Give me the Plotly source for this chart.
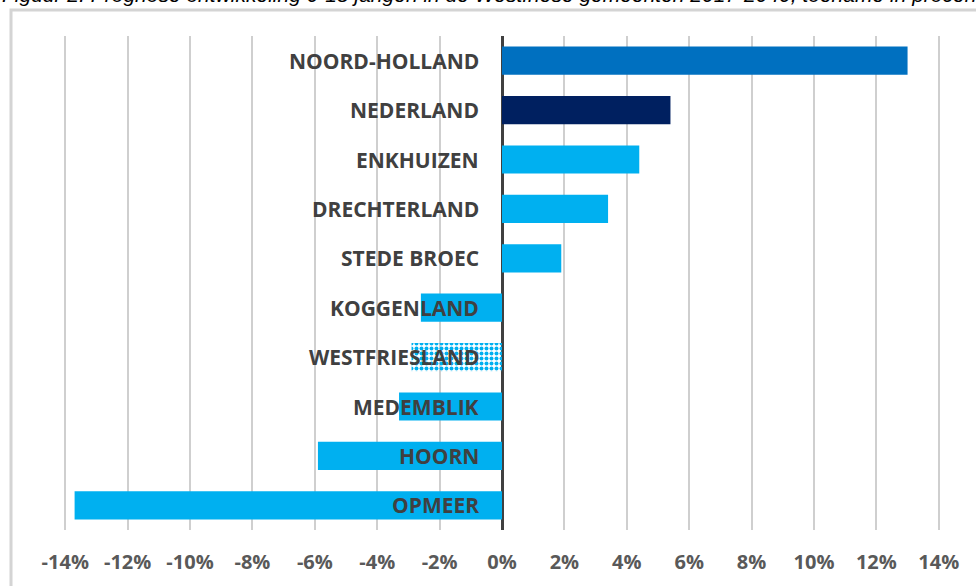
import plotly.graph_objects as go

categories = ["NOORD-HOLLAND", "NEDERLAND", "ENKHUIZEN", "DRECHTERLAND", "STEDE BROEC",
              "KOGGENLAND", "WESTFRIESLAND", "MEDEMBLIK", "HOORN", "OPMEER"]
values = [13.0, 5.4, 4.4, 3.4, 1.9, -2.6, -2.9, -3.3, -5.9, -13.7]
tick_vals = [-14, -12, -10, -8, -6, -4, -2, 0, 2, 4, 6, 8, 10, 12, 14]
tick_text = ["-14%", "-12%", "-10%", "-8%", "-6%", "-4%", "-2%", "0%", "2%", "4%", "6%", "8%", "10%", "12%", "14%"]
title_text = "Figuur 2: Prognose ontwikkeling 0-18 jarigen in de Westfriese gemeenten 2017-2040, toename in procenten"

colors = ["#0070C0", "#002060", "#00B0F0", "#00B0F0", "#00B0F0",
          "#00B0F0", "#00B0F0", "#00B0F0", "#00B0F0", "#00B0F0"]
patterns = ["", "", "", "", "", "", ".", "", "", ""]

W, H = 976, 586
ML, MT = 59, 36
PW, PH = 886, 494
MR = W - ML - PW
MB = H - MT - PH

def px_x(p):
    return (p - ML) / PW

def px_y(p):
    return (MT + PH - p) / PH

fig = go.Figure()
fig.add_trace(go.Bar(
    y=categories, x=values, orientation="h",
    marker=dict(color=colors, line=dict(width=0),
                pattern=dict(shape=patterns, bgcolor="#FFFFFF",
                             size=5, solidity=0.5, fillmode="replace")),
    hoverinfo="skip",
))

for c in categories:
    fig.add_annotation(x=0, y=c, xref="x", yref="y", text="<b>" + c + "</b>",
                       showarrow=False, xanchor="right", xshift=-21,
                       font=dict(family="Open Sans", size=21, color="#404040"))

fig.add_annotation(x=px_x(0), y=px_y(8), xref="paper", yref="paper", text="<i>" + title_text + "</i>",
                   showarrow=False, xanchor="left", yanchor="bottom",
                   font=dict(family="Liberation Sans", size=21, color="#000000"))

fig.add_shape(type="rect", xref="paper", yref="paper",
              x0=px_x(11), x1=px_x(1000), y0=px_y(620), y1=px_y(10),
              line=dict(color="#D4D4D4", width=3), fillcolor="rgba(0,0,0,0)", layer="below")

fig.update_layout(
    width=W, height=H,
    margin=dict(l=ML, r=MR, t=MT, b=MB),
    paper_bgcolor="white", plot_bgcolor="white",
    bargap=0.43, showlegend=False,
    xaxis=dict(range=[-14.2, 14.2], tickvals=tick_vals, ticktext=tick_text,
               showgrid=True, gridcolor="#CFCFCF", gridwidth=2,
               zeroline=True, zerolinecolor="#404040", zerolinewidth=3,
               showline=False, ticks="", ticklabelstandoff=18,
               tickfont=dict(family="Open Sans", size=20, color="#595959", weight="bold")),
    yaxis=dict(autorange="reversed", showticklabels=False, showgrid=False,
               zeroline=False, showline=False, ticks=""),
)

fig.write_html("out.html", config={"displayModeBar": False},
               post_script="document.body.style.margin='0px';")
